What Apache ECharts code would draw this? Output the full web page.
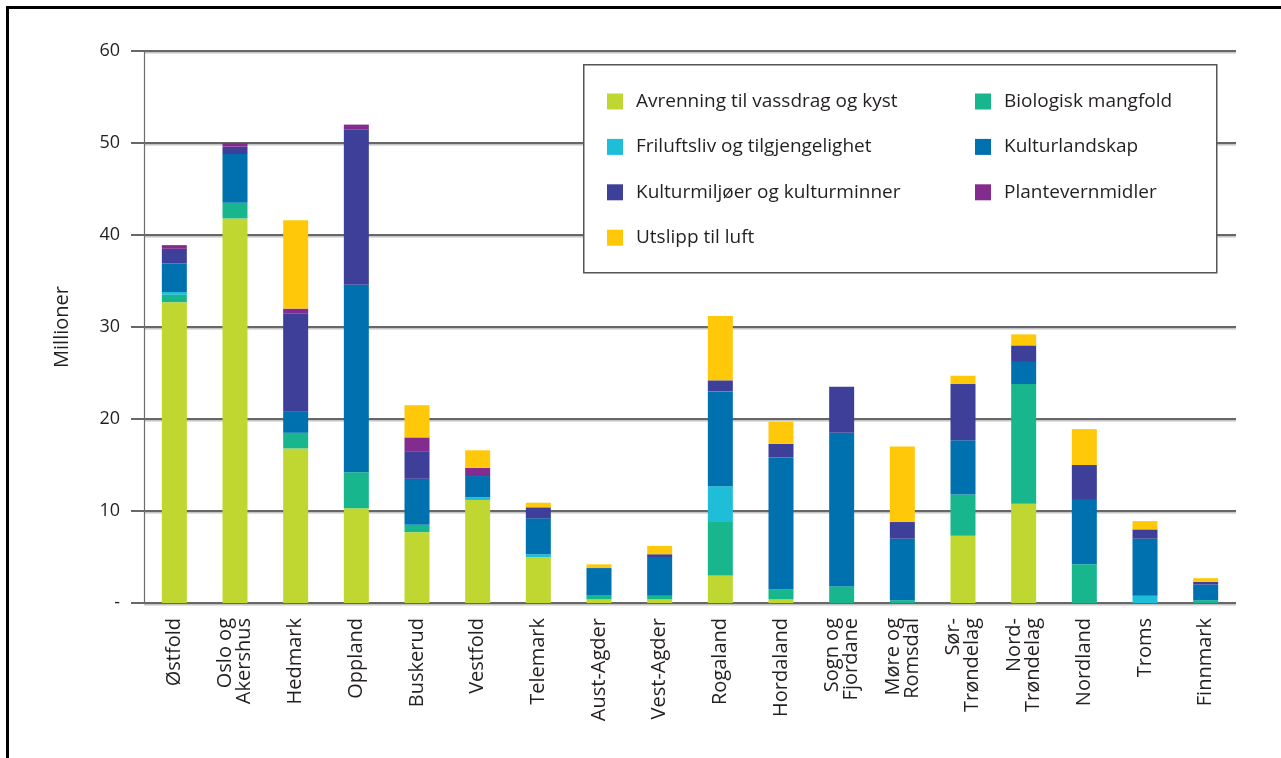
<!DOCTYPE html>
<html>
<head>
<meta charset="utf-8">
<script src="https://cdn.jsdelivr.net/npm/echarts@6/dist/echarts.min.js"></script>
<style>
  html, body { margin: 0; padding: 0; background: #fff; }
  #chart { width: 1281px; height: 758px; }
</style>
</head>
<body>
<div id="chart"></div>
<script>
// Fylker (counties)
const categories = [
  'Østfold', 'Oslo og\nAkershus', 'Hedmark', 'Oppland', 'Buskerud', 'Vestfold',
  'Telemark', 'Aust-Agder', 'Vest-Agder', 'Rogaland', 'Hordaland', 'Sogn og\nFjordane',
  'Møre og\nRomsdal', 'Sør-\nTrøndelag', 'Nord-\nTrøndelag', 'Nordland', 'Troms', 'Finnmark'
];

// Millioner per formål, stacked from the bottom up
const avrenning     = [32.7, 41.8, 16.8, 10.3, 7.7, 11.2, 5.0, 0.4, 0.4, 3.0, 0.4, 0, 0, 7.3, 10.8, 0, 0, 0];
const biologisk     = [0.8, 1.7, 1.7, 3.9, 0.8, 0, 0, 0.4, 0.4, 5.8, 1.1, 1.8, 0.3, 4.5, 13.0, 4.2, 0, 0.3];
const friluftsliv   = [0.3, 0, 0, 0, 0, 0.3, 0.3, 0, 0, 3.9, 0, 0, 0, 0, 0, 0, 0.8, 0];
const kulturlandskap = [3.1, 5.3, 2.3, 20.4, 5.0, 2.3, 3.9, 3.0, 4.2, 10.3, 14.3, 16.7, 6.7, 5.9, 2.4, 7.0, 6.2, 1.7];
const kulturmiljoer = [1.6, 0.8, 10.7, 16.9, 3.0, 0, 1.2, 0, 0.3, 1.2, 1.5, 5.0, 1.8, 6.1, 1.8, 3.8, 1.0, 0.3];
const plantevern    = [0.4, 0.4, 0.5, 0.5, 1.5, 0.9, 0, 0, 0, 0, 0, 0, 0, 0, 0, 0, 0, 0];
const utslipp       = [0, 0, 9.6, 0, 3.5, 1.9, 0.5, 0.4, 0.9, 7.0, 2.4, 0, 8.2, 0.9, 1.2, 3.9, 0.9, 0.4];

const seriesNames = [
  'Avrenning til vassdrag og kyst', 'Biologisk mangfold', 'Friluftsliv og tilgjengelighet',
  'Kulturlandskap', 'Kulturmiljøer og kulturminner', 'Plantevernmidler', 'Utslipp til luft'
];
const seriesData = [avrenning, biologisk, friluftsliv, kulturlandskap, kulturmiljoer, plantevern, utslipp];
const colors = ['#BFD730', '#17B68D', '#1EBED8', '#0071AF', '#3E3F98', '#832C8F', '#FFC90A'];

const FONT = '"Open Sans", "Noto Sans", sans-serif';
const TEXT = '#231f20';
const GRID_LINE = '#676767';

const chart = echarts.init(document.getElementById('chart'), null, { renderer: 'canvas' });

const legendText = {
  color: TEXT, fontFamily: FONT, fontSize: 19, lineHeight: 16, padding: [0, 0, 0, 8]
};

chart.setOption({
  animation: false,
  color: colors,
  grid: { left: 144, right: 45, top: 51, bottom: 155, containLabel: false },
  legend: [
    {
      orient: 'vertical', left: 607, top: 92, itemWidth: 16, itemHeight: 16, itemGap: 26.4,
      icon: 'rect', selectedMode: false, padding: 0, textStyle: legendText, z: 6,
      data: [seriesNames[0], seriesNames[2], seriesNames[4], seriesNames[6]]
    },
    {
      orient: 'vertical', left: 975, top: 92, itemWidth: 16, itemHeight: 16, itemGap: 26.4,
      icon: 'rect', selectedMode: false, padding: 0, textStyle: legendText, z: 6,
      data: [seriesNames[1], seriesNames[3], seriesNames[5]]
    }
  ],
  graphic: [
    {
      type: 'rect', left: 5, top: 5, silent: true, z: 10,
      shape: { x: 0, y: 0, width: 1320, height: 800 },
      style: { fill: 'none', stroke: '#000', lineWidth: 3 }
    },
    {
      type: 'rect', left: 583, top: 64, silent: true, z: 5,
      shape: { x: 0, y: 0, width: 633, height: 208 },
      style: { fill: '#fff', stroke: '#555', lineWidth: 1.5 }
    }
  ],
  xAxis: {
    type: 'category',
    data: categories,
    axisLine: { show: false },
    axisTick: { show: false },
    axisLabel: {
      rotate: 90, margin: 15, interval: 0,
      color: TEXT, fontFamily: FONT, fontSize: 20, lineHeight: 19
    }
  },
  yAxis: {
    type: 'value',
    min: 0, max: 60, interval: 10,
    name: 'Millioner',
    nameLocation: 'middle',
    nameGap: 72,
    nameRotate: 90,
    nameTextStyle: { color: TEXT, fontFamily: FONT, fontSize: 20 },
    axisLine: { show: true, lineStyle: { color: '#6d6d6d', width: 1.2 } },
    axisTick: { show: true, length: 13, lineStyle: { color: GRID_LINE, width: 2 } },
    axisLabel: {
      margin: 24, color: TEXT, fontFamily: FONT, fontSize: 18,
      formatter: v => (v === 0 ? '-' : String(v))
    },
    splitLine: {
      show: true,
      lineStyle: { color: GRID_LINE, width: 2, shadowColor: '#c4c4c4', shadowOffsetY: 1.5, shadowBlur: 0 }
    }
  },
  series: seriesNames.map((name, i) => ({
    name,
    type: 'bar',
    stack: 'total',
    barWidth: 25,
    data: seriesData[i],
    itemStyle: { color: colors[i] },
    emphasis: { disabled: true }
  }))
});
</script>
</body>
</html>
